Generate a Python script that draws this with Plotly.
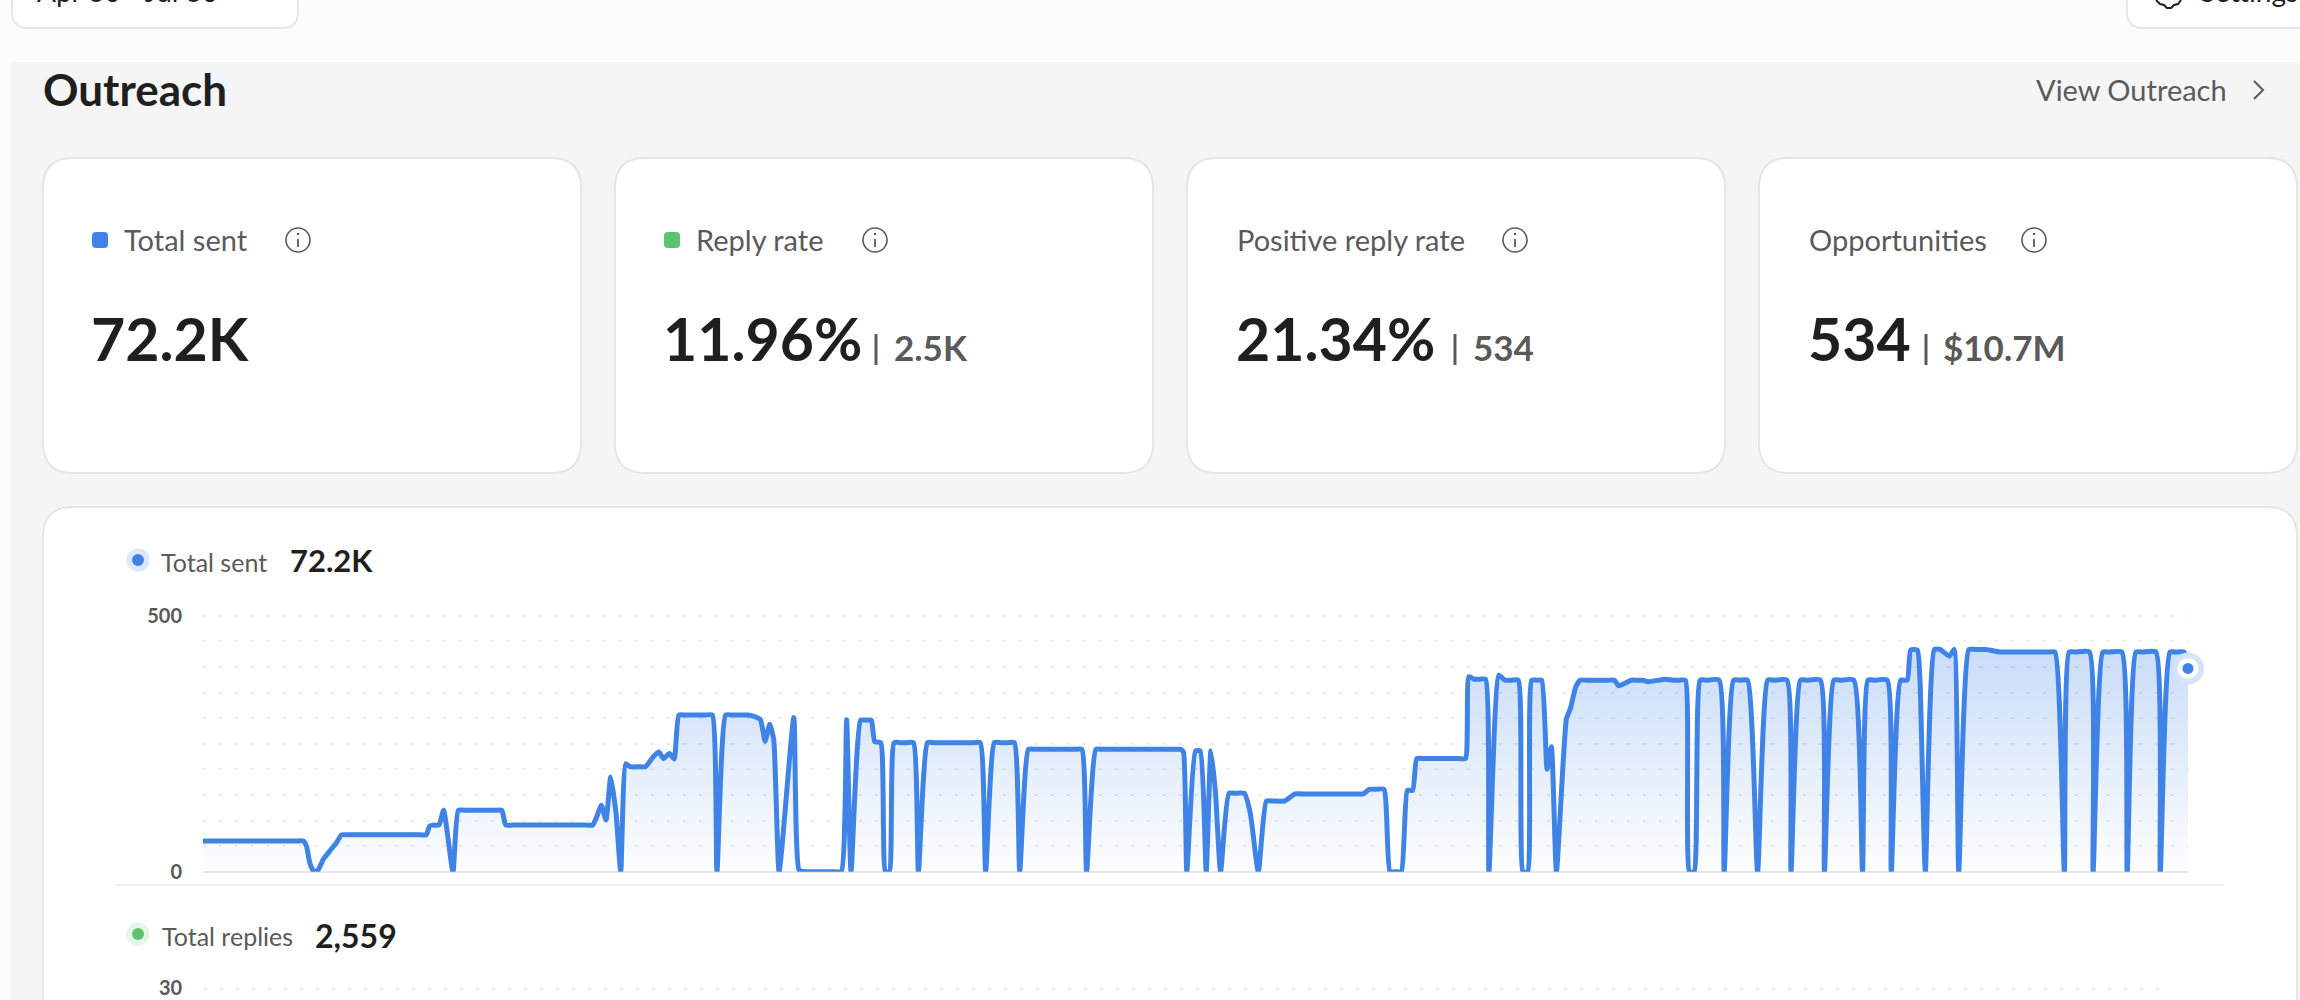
import plotly.graph_objects as go

W, H = 2300, 1000
FONT = "Lato"
BLUE = "#3f83e6"
GREEN = "#5cc46c"
DARK = "#1f1f1f"
GREY = "#5a5a5a"
BORDER = "#e3e5ec"

card_titles = ["Total sent", "Reply rate", "Positive reply rate", "Opportunities"]
card_values = ["72.2K", "11.96%", "21.34%", "534"]
card_subvalues = ["", "2.5K", "534", "$10.7M"]

y_tick_values = [0, 50, 100, 150, 200, 250, 300, 350, 400, 450, 500]
y_tick_labels = ["0", "", "", "", "", "", "", "", "", "", "500"]

sent_index = [
    0, 1, 14, 15, 15.5, 16, 16.6, 17.2, 18, 19, 20, 20.7, 21.7, 32.4, 33.4, 33.9, 34.4, 35.3, 36, 37.4, 38.2, 39.2,
    43.7, 44.7, 45.3, 46.3, 57.3, 58.3, 58.9, 59.6, 60.3, 61, 61.8, 62.5, 63.25, 63.9, 65.2, 66.2, 67.4, 68.2, 68.9, 69.8, 70.5, 71.2, 72.2,
    75.2, 76.2, 76.9, 78.2, 79.2, 81.5, 82.3, 83.4, 84.1, 84.8, 85.4, 86.2, 88.4, 89.2, 90.2, 94.5, 95.5, 96.3, 96.96, 98.4, 99.2, 100, 100.5, 101.4,
    102.1, 102.7, 103.4, 104.4, 105.3, 106.3, 107.04, 108.4, 109.4, 115.3, 116.3, 117.1, 118.4, 119.4, 120.4, 121.4, 122.2, 123.5, 124.5, 130.5, 131.5,
    132.2, 133.6, 134.6, 145.3, 146.3, 146.7, 147.2, 148.5, 149.2, 150.1, 150.8, 151.5, 152.25, 153.5, 154.5, 155.8, 156.7, 157.9, 159.1, 160.1, 161.8,
    163.4, 164.4, 172.6, 173.6, 174.5, 175.5, 176.7, 177.6, 178.5, 179.3, 180.2, 181, 181.6, 182.6, 187.9, 188.9, 189.4, 190.2, 191, 191.9, 192.4,
    193.9, 194.8, 195.8, 196.8, 197.5, 198.2, 198.8, 199.6, 200.3, 201.1, 201.75, 202.5, 204, 204.6, 205.4, 206.05, 207, 210.2, 211.2, 211.8, 213.7,
    214.5, 215.4, 216.2, 218.8, 220, 220.9, 221.8, 222.4, 223.1, 224, 225, 226.85, 227.6, 229, 230, 231.1, 232.6, 234.1, 235.1, 237, 237.6,
    239, 240, 242, 242.6, 244, 245, 247, 248.3, 249.1, 250.1, 252, 252.6, 254, 255, 255.5, 256.5, 256.9, 257.7, 259.05, 259.9, 261.3, 262, 262.7,
    264.2, 265.2, 266.8, 268.8, 270, 276.1, 277.1, 278.5, 279.2, 280.2, 282.25, 282.8, 284.25, 285.2, 287.1, 287.9, 289.2, 290.2, 292.2, 292.85,
    294.3, 295.3, 296.4, 297,
]
sent_count = [
    60, 60, 60, 60, 49, 16, 0, 3, 24, 41, 57, 72, 72, 72, 72, 89, 91, 91, 120, 0, 120, 120,
    120, 120, 91, 91, 91, 91, 107, 130, 101, 185, 114, 0, 211, 205, 205, 205, 225, 234, 221, 231, 220, 306, 306,
    306, 306, 0, 306, 306, 306, 304, 297, 255, 288, 257, 0, 301, 3, 0, 0, 0, 297, 0, 296, 296, 296, 254, 252,
    0, 0, 252, 252, 252, 252, 0, 252, 252, 252, 252, 0, 252, 252, 252, 252, 0, 239, 239, 239, 239,
    0, 239, 239, 239, 239, 234, 0, 236, 236, 0, 236, 153, 0, 153, 153, 153, 114, 0, 138, 138, 138,
    152, 152, 152, 152, 161, 161, 161, 0, 0, 0, 159, 159, 221, 221, 221, 221, 381, 376, 376, 376, 0,
    384, 374, 374, 374, 0, 0, 374, 374, 374, 200, 244, 0, 299, 319, 361, 374, 374, 374, 374, 363, 374,
    374, 374, 371, 376, 374, 374, 374, 0, 0, 374, 374, 374, 0, 374, 374, 374, 0, 374, 374, 374, 0,
    374, 374, 374, 0, 374, 374, 374, 0, 374, 374, 374, 0, 374, 374, 433, 433, 374, 0, 434, 434, 421, 434, 0,
    434, 434, 434, 429, 429, 429, 429, 0, 429, 429, 429, 0, 429, 429, 429, 0, 429, 429, 429, 0,
    429, 429, 429, 397,
]
assert len(sent_index) == len(sent_count), (len(sent_index), len(sent_count))


def px(x):
    return x / W


def py(y):
    return 1 - y / H


def round_rect(x0, y0, x1, y1, r):
    a, b, c, d = px(x0), px(x1), py(y0), py(y1)
    rx, ry = r / W, r / H
    return (
        f"M{a+rx},{c} L{b-rx},{c} Q{b},{c} {b},{c-ry} L{b},{d+ry} Q{b},{d} {b-rx},{d} "
        f"L{a+rx},{d} Q{a},{d} {a},{d+ry} L{a},{c-ry} Q{a},{c} {a+rx},{c} Z"
    )


shapes = []


def rect(x0, y0, x1, y1, r=0, fill="white", line=None, lw=1.5, layer="below"):
    shapes.append(dict(
        type="path", xref="paper", yref="paper", path=round_rect(x0, y0, x1, y1, r),
        fillcolor=fill, line=dict(color=line or "rgba(0,0,0,0)", width=lw if line else 0), layer=layer))


def circle(cx, cy, r, fill="rgba(0,0,0,0)", line=None, lw=1.5):
    shapes.append(dict(
        type="circle", xref="paper", yref="paper", x0=px(cx - r), x1=px(cx + r), y0=py(cy + r), y1=py(cy - r),
        fillcolor=fill, line=dict(color=line or "rgba(0,0,0,0)", width=lw if line else 0), layer="below"))


def seg(points, color=GREY, lw=1.8):
    d = "M" + " L".join(f"{px(x)},{py(y)}" for x, y in points)
    shapes.append(dict(type="path", xref="paper", yref="paper", path=d,
                       line=dict(color=color, width=lw), layer="below"))


annotations = []


def text(s, x, y, size, color=GREY, anchor="left", weight=400, valign="middle"):
    annotations.append(dict(
        text=s, xref="paper", yref="paper", x=px(x), y=py(y), xanchor=anchor, yanchor=valign,
        showarrow=False, borderpad=0, align=anchor,
        font=dict(family=FONT, size=size, color=color, weight=weight)))


# page chrome
rect(10, 62, 2320, 1040, 0, fill="#f5f5f5")
rect(12, -40, 298, 28, 16, fill="white", line="#e2e5ec", lw=1.8)
rect(2127, -40, 2340, 28, 16, fill="white", line="#e2e5ec", lw=1.8)
text("Apr 30 - Jul 30", 36, 9, 28, DARK, valign="bottom")
text("Settings", 2199, 9, 28, DARK, valign="bottom")
seg([(2156, 0), (2160, 4), (2164, 5), (2167, 8), (2171, 8), (2174, 5), (2178, 4), (2181, 0)], DARK, 2)

text("Outreach", 42, 89, 44, DARK, weight=700)
text("View Outreach", 2035, 90, 29, GREY)
seg([(2254, 81), (2263, 90), (2254, 99)], GREY, 2)

# KPI cards
card_x0 = [43, 615, 1187, 1759]
card_x1 = [581, 1153, 1725, 2297]
title_x = [123, 695, 1236, 1808]
icon_x = [298, 875, 1515, 2034]
value_x = [90, 662, 1235, 1807]
bar_x = [None, 876, 1455, 1926]
sub_x = [None, 893, 1472, 1942]
marker_colors = [BLUE, GREEN, None, None]
for i in range(4):
    rect(card_x0[i], 158, card_x1[i], 473, 30, line=BORDER, lw=1.8)
    if marker_colors[i]:
        rect(title_x[i] - 31, 232, title_x[i] - 15, 248, 4, fill=marker_colors[i])
    text(card_titles[i], title_x[i], 239, 29, GREY)
    circle(icon_x[i], 240, 12, line=GREY, lw=1.6)
    seg([(icon_x[i], 239), (icon_x[i], 247)], GREY, 1.8)
    circle(icon_x[i], 234, 1.2, fill=GREY)
    text(card_values[i], value_x[i], 339, 59, DARK, weight=700)
    if card_subvalues[i]:
        seg([(bar_x[i], 334), (bar_x[i], 365)], GREY, 3)
        text(card_subvalues[i], sub_x[i], 347, 35, GREY, weight=700)

# chart card
rect(43, 507, 2297, 1060, 30, line=BORDER, lw=1.8)
circle(138, 560, 11.5, fill="#dce8fb")
circle(138, 560, 6, fill=BLUE)
text("Total sent", 160, 562, 25, GREY)
text("72.2K", 289, 560, 31, DARK, weight=700)

seg([(116, 885), (2224, 885)], "#eff0f5", 2)

circle(138, 934, 11.5, fill="#e6f5e8")
circle(138, 934, 6, fill=GREEN)
text("Total replies", 161, 936, 25, GREY)
text("2,559", 314, 935, 32, DARK, weight=700)
text("30", 184, 987, 20, GREY, anchor="right", weight=700)
shapes.append(dict(type="line", xref="paper", yref="paper", x0=px(204), x1=px(2172), y0=py(989), y1=py(989),
                   line=dict(color="#ececec", width=2, dash="3px,13px"), layer="below"))

fig = go.Figure()
fig.add_trace(go.Scatter(
    x=sent_index, y=sent_count, mode="lines", cliponaxis=False, hoverinfo="skip",
    line=dict(color=BLUE, width=5, shape="spline", smoothing=0.5),
    fill="tozeroy",
    fillgradient=dict(type="vertical", start=0, stop=434,
                      colorscale=[[0, "rgba(63,131,230,0.01)"], [1, "rgba(63,131,230,0.28)"]]),
))
# end-of-series marker
for size, colour in [(32, "#d5e3fa"), (21, "white"), (11, BLUE)]:
    fig.add_trace(go.Scatter(
        x=sent_index[-1:], y=sent_count[-1:], mode="markers", cliponaxis=False, hoverinfo="skip",
        marker=dict(size=size, color=colour, line=dict(width=0))))

fig.update_layout(
    width=W, height=H, margin=dict(l=0, r=0, t=0, b=0, autoexpand=False), autosize=False,
    paper_bgcolor="#fcfcfc", plot_bgcolor="rgba(0,0,0,0)", showlegend=False,
    shapes=shapes, annotations=annotations,
    xaxis=dict(domain=[px(203), px(2188)], range=[0, 297], visible=False, fixedrange=True),
    yaxis=dict(
        domain=[py(871.7), py(871.7 - 0.512 * 510)], range=[0, 510], tickmode="array",
        tickvals=y_tick_values, ticktext=y_tick_labels, ticks="", ticklabelstandoff=20,
        tickfont=dict(family=FONT, size=20, color=GREY, weight=700),
        showgrid=True, gridcolor="#ececec", gridwidth=2, griddash="3px,13px",
        zeroline=True, zerolinecolor="#e2e6ee", zerolinewidth=2, showline=False, fixedrange=True),
)

fig.write_html("out.html", config=dict(displayModeBar=False),
               post_script="document.body.style.margin='0';document.body.style.overflow='hidden';")
